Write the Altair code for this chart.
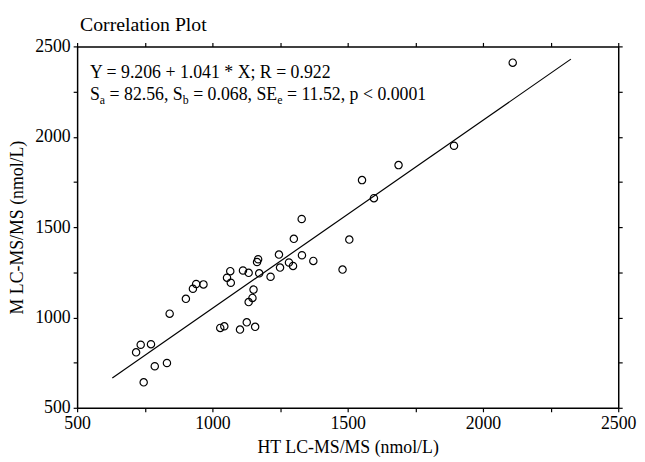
import altair as alt
import pandas as pd

# Data
ht_values = [746, 718, 735, 773, 787, 832, 842, 902, 928, 940, 967, 1029, 1044,
             1054, 1066, 1068, 1102, 1113, 1127, 1134, 1134, 1148, 1152, 1158,
             1165, 1169, 1173, 1215, 1246, 1250, 1283, 1298, 1301, 1331, 1373,
             1481, 1506, 1330, 1553, 1597, 1688, 1893, 2110]
m_values = [641, 807, 849, 852, 730, 748, 1021, 1103, 1159, 1185, 1183, 942, 951,
            1220, 1256, 1192, 933, 1260, 973, 1247, 1085, 1108, 1154, 948,
            1307, 1322, 1244, 1225, 1348, 1276, 1304, 1285, 1435, 1344, 1313,
            1265, 1431, 1545, 1760, 1660, 1843, 1950, 2410]
intercept = 9.206
slope = 1.041
line_x = [630, 2325]
tick_values = [500, 750, 1000, 1250, 1500, 1750, 2000, 2250, 2500]
title_text = "Correlation Plot"
x_title = "HT LC-MS/MS (nmol/L)"
y_title = "M LC-MS/MS (nmol/L)"
eq_line1 = "Y = 9.206 + 1.041 * X; R = 0.922"
# second line pieces: (text, is_subscript)
eq_line2 = [("S", False), ("a", True), ("= 82.56, S", False), ("b", True),
            ("= 0.068, SE", False), ("e", True), ("= 11.52, p < 0.0001", False)]

FONT = "Liberation Serif"
FS = 18
SUB = 12

pts = pd.DataFrame({"x": ht_values, "y": m_values})
line_df = pd.DataFrame({"x": line_x, "y": [intercept + slope * v for v in line_x]})

xs = alt.Scale(domain=[500, 2500], nice=False, zero=False)
ys = alt.Scale(domain=[500, 2500], nice=False, zero=False)
lab = "datum.value % 500 === 0 ? datum.label : ''"

common_axis = dict(values=tick_values, grid=False, domainColor="black", domainWidth=1.5,
                   tickColor="black", tickSize=4, tickWidth=1.2, labelFont=FONT,
                   labelFontSize=FS, labelColor="black", labelFlush=False,
                   labelExpr=lab, format="d", titleFont=FONT, titleFontSize=FS,
                   titleFontWeight="normal", titleColor="black", labelOverlap=False)

points = alt.Chart(pts).mark_point(shape="circle", filled=False, color="black",
                                   size=55, strokeWidth=1.2, opacity=1).encode(
    x=alt.X("x:Q", scale=xs, axis=alt.Axis(orient="bottom", title=x_title,
                                           labelPadding=3, titlePadding=6, **common_axis)),
    y=alt.Y("y:Q", scale=ys, axis=alt.Axis(orient="left", title=y_title,
                                           labelPadding=3, titlePadding=8, **common_axis)),
)

line = alt.Chart(line_df).mark_line(color="black", strokeWidth=1.2).encode(
    x=alt.X("x:Q", scale=xs, axis=alt.Axis(orient="top", labels=False, title=None,
                                           values=tick_values, grid=False, domainColor="black",
                                           domainWidth=1.5, tickColor="black", tickSize=4,
                                           tickWidth=1.2)),
    y=alt.Y("y:Q", scale=ys, axis=alt.Axis(orient="right", labels=False, title=None,
                                           values=tick_values, grid=False, domainColor="black",
                                           domainWidth=1.5, tickColor="black", tickSize=4,
                                           tickWidth=1.2)),
)

layers = [points, line]

def txt(t, x, y, size):
    return alt.Chart(pd.DataFrame({"t": [t]})).mark_text(
        align="left", baseline="alphabetic", font=FONT, fontSize=size, color="black"
    ).encode(x=alt.value(x), y=alt.value(y), text="t:N")

layers.append(txt(title_text, 3, -16, 20))
layers.append(txt(eq_line1, 13, 32, FS))

# widths (Times metrics, per 1000 em)
W = {"S": 556, "a": 444, "b": 500, "e": 444, "E": 611, "=": 564, " ": 250, ".": 250,
     ",": 250, "p": 500, "<": 564}
def width(s, size):
    return sum(W.get(c, 500) for c in s) * size / 1000.0

cx = 13.0
for piece, sub in eq_line2:
    if sub:
        layers.append(txt(piece, cx, 58, SUB))
        cx += width(piece, SUB)
        cx += width(" ", FS)  # following space
    else:
        layers.append(txt(piece, cx, 54, FS))
        cx += width(piece, FS)

chart = alt.layer(*layers).resolve_axis(x="independent", y="independent").properties(
    width=548, height=366,
    autosize=alt.AutoSizeParams(type="none"),
    padding={"left": 70, "top": 36, "right": 19, "bottom": 52},
    background="white",
).configure_view(stroke=None)

chart.save("out.html", embed_options={"renderer": "svg", "actions": False})
